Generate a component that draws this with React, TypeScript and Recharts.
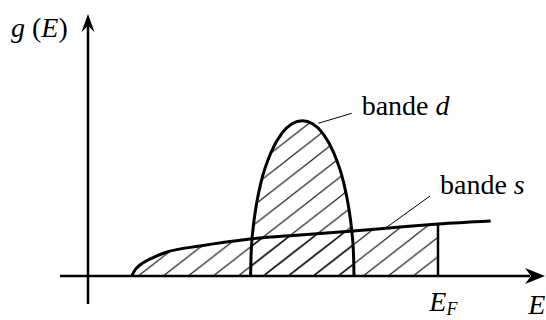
import React from "react";
import { Area, ComposedChart, Line, ReferenceDot, ReferenceLine, XAxis, YAxis } from "recharts";

// s band: quick rise from its edge, then a slow climb past the Fermi level
const sBandEnergy = [4.37, 4.7, 5.2, 5.87, 6.7, 7.9, 11.2, 16.2, 21.2, 26.5, 31.2, 35.0, 40.27];
const sBandDensity = [0, 0.6, 1.1, 1.53, 1.93, 2.4, 3.0, 3.7, 4.1, 4.5, 4.9, 5.2, 5.5];

// d band: narrow and tall, entirely below the Fermi level
const dBandEnergy = [
  16.26, 16.31, 16.52, 16.78, 17.29, 18.33, 19.36, 20.4, 21.43,
  22.46, 23.5, 24.53, 25.57, 26.08, 26.34, 26.55, 26.6,
];
const dBandDensity = [
  0, 2.19, 4.85, 6.77, 9.32, 12.42, 14.24, 15.22, 15.53,
  15.22, 14.24, 12.42, 9.32, 6.77, 4.85, 2.19, 0,
];

const fermiEnergy = 35.0;

// axis extents
const xMin = -2.8;
const xMax = 45.7;
const yMin = -2.8;
const yMax = 26.2;

const sBand = sBandEnergy.map((E, i) => ({ E, g: sBandDensity[i] }));
const sFilled = sBand.filter((p) => p.E <= fermiEnergy);
const dBand = dBandEnergy.map((E, i) => ({ E, g: dBandDensity[i] }));
const fermiTop = sBandDensity[sBandEnergy.indexOf(fermiEnergy)];

const FONT = "'Liberation Serif', 'Times New Roman', serif";

const textAt = (content: React.ReactNode, size = 28) => (props: any) => (
  <text x={props.cx} y={props.cy} fontFamily={FONT} fontSize={size} fill="#000">
    {content}
  </text>
);

const arrowRight = (props: any) => {
  const { cx, cy } = props;
  return <path d={`M${cx},${cy} L${cx - 20},${cy - 8} L${cx - 14},${cy} L${cx - 20},${cy + 8} Z`} fill="#000" />;
};

const arrowUp = (props: any) => {
  const { cx, cy } = props;
  return <path d={`M${cx},${cy} L${cx - 6.5},${cy + 18} L${cx},${cy + 12} L${cx + 6.5},${cy + 18} Z`} fill="#000" />;
};

export default function App() {
  return (
    <div style={{ position: "absolute", left: 0, top: 0, background: "#fff" }}>
      <ComposedChart width={546} height={320} margin={{ top: 14, right: 1, bottom: 16, left: 60 }}>
        <defs>
          <pattern id="hatch" patternUnits="userSpaceOnUse" x={13.3} y={256.5} width={25} height={19.5}>
            <path d="M-27.5,21.45 L2.5,-1.95 M-2.5,21.45 L27.5,-1.95 M22.5,21.45 L52.5,-1.95" stroke="#000" strokeWidth={1} />
          </pattern>
        </defs>
        <XAxis type="number" dataKey="E" domain={[xMin, xMax]} allowDataOverflow hide />
        <YAxis type="number" dataKey="g" domain={[yMin, yMax]} allowDataOverflow hide />

        <Area
          data={sFilled}
          dataKey="g"
          type="monotone"
          baseValue={0}
          fill="url(#hatch)"
          fillOpacity={1}
          stroke="none"
          isAnimationActive={false}
        />
        <Area
          data={dBand}
          dataKey="g"
          type="monotone"
          baseValue={0}
          fill="url(#hatch)"
          fillOpacity={1}
          stroke="#000"
          strokeWidth={3}
          isAnimationActive={false}
        />
        <Line data={sBand} dataKey="g" type="monotone" stroke="#000" strokeWidth={3} dot={false} isAnimationActive={false} />

        <ReferenceLine segment={[{ x: fermiEnergy, y: 0 }, { x: fermiEnergy, y: fermiTop }]} stroke="#000" strokeWidth={2.5} />

        {/* axes */}
        <ReferenceLine segment={[{ x: xMin, y: 0 }, { x: xMax - 1.5, y: 0 }]} stroke="#000" strokeWidth={2.5} />
        <ReferenceLine segment={[{ x: 0, y: yMin }, { x: 0, y: yMax - 1.2 }]} stroke="#000" strokeWidth={2.5} />
        <ReferenceDot x={xMax} y={0} ifOverflow="visible" shape={arrowRight} />
        <ReferenceDot x={0} y={yMax} ifOverflow="visible" shape={arrowUp} />

        {/* leader lines */}
        <ReferenceLine segment={[{ x: 23.03, y: 15.27 }, { x: 26.37, y: 16.27 }]} stroke="#000" strokeWidth={1} />
        <ReferenceLine segment={[{ x: 29.87, y: 4.87 }, { x: 34.2, y: 8.0 }]} stroke="#000" strokeWidth={1} />

        {/* labels */}
        <ReferenceDot
          x={-7.7}
          y={23.9}
          ifOverflow="visible"
          shape={textAt(
            <>
              <tspan fontStyle="italic">g</tspan>
              <tspan> (</tspan>
              <tspan fontStyle="italic">E</tspan>
              <tspan>)</tspan>
            </>
          )}
        />
        <ReferenceDot
          x={27.37}
          y={16.1}
          ifOverflow="visible"
          shape={textAt(
            <>
              <tspan>bande </tspan>
              <tspan fontStyle="italic">d</tspan>
            </>
          )}
        />
        <ReferenceDot
          x={35.2}
          y={8.17}
          ifOverflow="visible"
          shape={textAt(
            <>
              <tspan>bande </tspan>
              <tspan fontStyle="italic">s</tspan>
            </>
          )}
        />
        <ReferenceDot
          x={34.13}
          y={-3.5}
          ifOverflow="visible"
          shape={textAt(
            <>
              <tspan fontStyle="italic">E</tspan>
              <tspan fontStyle="italic" fontSize={18} dy={4}>F</tspan>
            </>
          )}
        />
        <ReferenceDot x={44.03} y={-3.8} ifOverflow="visible" shape={textAt(<tspan fontStyle="italic">E</tspan>)} />
      </ComposedChart>
    </div>
  );
}
